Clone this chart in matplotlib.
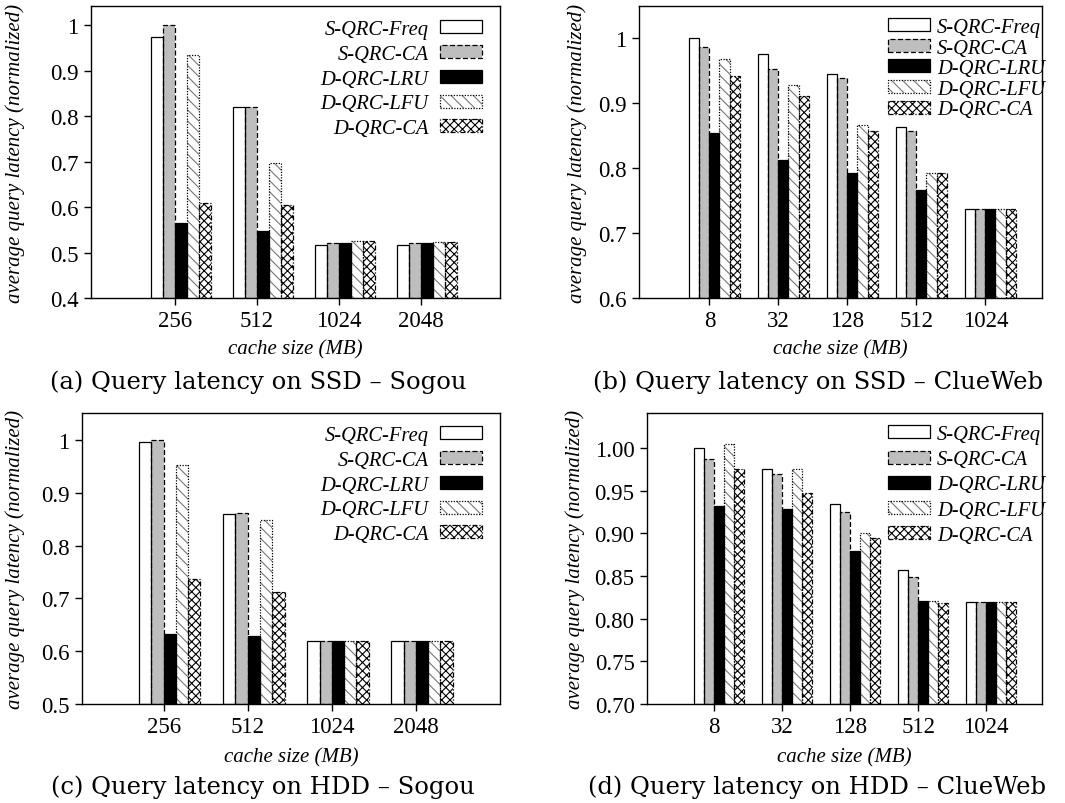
import numpy as np
import matplotlib
matplotlib.use('Agg')
import matplotlib.pyplot as plt
from matplotlib.patches import Patch
from matplotlib.legend_handler import HandlerTuple

# ---------------- data ----------------
series = ['S-QRC-Freq', 'S-QRC-CA', 'D-QRC-LRU', 'D-QRC-LFU', 'D-QRC-CA']
sogou_sizes = ['256', '512', '1024', '2048']
clueweb_sizes = ['8', '32', '128', '512', '1024']

# rows follow `series`, columns follow the cache sizes
ssd_sogou = [
    [0.974, 0.821, 0.517, 0.517],
    [1.000, 0.821, 0.522, 0.522],
    [0.565, 0.548, 0.521, 0.521],
    [0.934, 0.696, 0.525, 0.524],
    [0.608, 0.604, 0.525, 0.524],
]
ssd_clueweb = [
    [1.000, 0.976, 0.945, 0.864, 0.737],
    [0.987, 0.953, 0.939, 0.857, 0.737],
    [0.855, 0.812, 0.793, 0.767, 0.737],
    [0.968, 0.929, 0.867, 0.793, 0.737],
    [0.942, 0.911, 0.858, 0.792, 0.737],
]
hdd_sogou = [
    [0.997, 0.859, 0.619, 0.619],
    [1.000, 0.861, 0.619, 0.619],
    [0.633, 0.628, 0.619, 0.619],
    [0.952, 0.848, 0.619, 0.619],
    [0.736, 0.713, 0.619, 0.619],
]
hdd_clueweb = [
    [1.000, 0.975, 0.934, 0.857, 0.819],
    [0.9875, 0.970, 0.925, 0.849, 0.819],
    [0.932, 0.929, 0.879, 0.821, 0.819],
    [1.005, 0.975, 0.900, 0.821, 0.819],
    [0.975, 0.947, 0.894, 0.818, 0.819],
]

captions = ['(a) Query latency on SSD \u2013 Sogou',
            '(b) Query latency on SSD \u2013 ClueWeb',
            '(c) Query latency on HDD \u2013 Sogou',
            '(d) Query latency on HDD \u2013 ClueWeb']

# ---------------- styles ----------------
plt.rcParams['font.family'] = ['Liberation Serif', 'DejaVu Serif']
plt.rcParams['hatch.linewidth'] = 0.8

W, H = 1065, 804
fig = plt.figure(figsize=(W / 100, H / 100), dpi=100)

GRAY = '#bebebe'
styles = [
    dict(face='white', hatch=None, hcol=None, ls='-'),
    dict(face=GRAY, hatch=None, hcol=None, ls=(0, (4, 2))),
    dict(face='black', hatch=None, hcol=None, ls='-'),
    dict(face='white', hatch='\\\\\\', hcol='#777777', ls=(0, (1, 1.2))),
    dict(face='white', hatch='xxxx', hcol='black', ls=(0, (4, 1.5, 1, 1.5))),
]

def px_axes(l, r, t, b):
    return [l / W, 1 - b / H, (r - l) / W, (b - t) / H]

panels = [
    dict(data=ssd_sogou, cats=sogou_sizes, rect=px_axes(91, 500, 7, 299),
         ylim=(0.4, 1.042), yticks=np.arange(0.4, 1.001, 0.1), fmt='g',
         xlim=(-1.02, 3.96), legend='right', legdx=4, legdy=10, lsp=0.28,
         cap=(258, 382), ylab_x=15, xlab_y=350),
    dict(data=ssd_clueweb, cats=clueweb_sizes, rect=px_axes(639, 1042, 7, 299),
         ylim=(0.6, 1.05), yticks=np.arange(0.6, 1.001, 0.1), fmt='g',
         xlim=(-1.02, 4.82), legend='left', legdx=7, legdy=8, lsp=0.075,
         cap=(818, 382), ylab_x=577, xlab_y=350),
    dict(data=hdd_sogou, cats=sogou_sizes, rect=px_axes(82, 500, 414, 705),
         ylim=(0.5, 1.051), yticks=np.arange(0.5, 1.001, 0.1), fmt='g',
         xlim=(-0.97, 4.0), legend='right', legdx=4, legdy=9, lsp=0.28,
         cap=(263, 787), ylab_x=15, xlab_y=758),
    dict(data=hdd_clueweb, cats=clueweb_sizes, rect=px_axes(647, 1042, 414, 705),
         ylim=(0.7, 1.041), yticks=np.arange(0.7, 1.001, 0.05), fmt='.2f',
         xlim=(-0.99, 4.82), legend='left', legdx=7, legdy=8, lsp=0.3,
         cap=(817, 787), ylab_x=575, xlab_y=758),
]

bw = 0.146
FS = 14.8
TFS = 16.5

for k, p in enumerate(panels):
    ax = fig.add_axes(p['rect'])
    x = np.arange(len(p['cats']))
    handles = []
    for i, (name, st) in enumerate(zip(series, styles)):
        vals = p['data'][i]
        left = x + (i - 2) * bw
        base = p['ylim'][0]
        heights = np.array(vals) - base
        if st['hatch']:
            ax.bar(left, heights, bw, bottom=base, align='edge', color=st['face'],
                   edgecolor=st['hcol'], linewidth=0, hatch=st['hatch'], zorder=2)
        else:
            ax.bar(left, heights, bw, bottom=base, align='edge', color=st['face'],
                   linewidth=0, zorder=2)
        ax.bar(left, heights, bw, bottom=base, align='edge', facecolor='none',
               edgecolor='black', linewidth=0.9, linestyle=st['ls'], zorder=3)
        if st['hatch']:
            h1 = Patch(facecolor=st['face'], edgecolor=st['hcol'], linewidth=0, hatch=st['hatch'])
        else:
            h1 = Patch(facecolor=st['face'], linewidth=0)
        h2 = Patch(facecolor='none', edgecolor='black', linewidth=0.9, linestyle=st['ls'])
        handles.append((h1, h2))

    ax.set_xlim(*p['xlim'])
    ax.set_ylim(*p['ylim'])
    ax.set_xticks(x)
    ax.set_xticklabels(p['cats'])
    ax.set_yticks(p['yticks'])
    ax.set_yticklabels([format(v, p['fmt']) for v in p['yticks']])
    ax.tick_params(axis='both', direction='out', length=5, width=1, labelsize=TFS,
                   top=False, right=False, pad=4)
    for s in ax.spines.values():
        s.set_linewidth(1.0)

    aw = p['rect'][2] * W
    ah = p['rect'][3] * H
    if p['legend'] == 'right':
        anchor = (1 - 18 / aw + p['legdx'] / aw, 1.0 - p['legdy'] / ah)
        ax.legend(handles, series, handler_map={tuple: HandlerTuple(ndivide=1, pad=0)},
                  loc='upper right', bbox_to_anchor=anchor,
                  frameon=False, markerfirst=False, prop=dict(size=FS, style='italic'),
                  handlelength=2.05, handleheight=0.6, handletextpad=0.55,
                  labelspacing=p['lsp'], borderpad=0.2, borderaxespad=0)
    else:
        anchor = (1.0 + p['legdx'] / aw, 1.0 - p['legdy'] / ah)
        ax.legend(handles, series, handler_map={tuple: HandlerTuple(ndivide=1, pad=0)},
                  loc='upper right', bbox_to_anchor=anchor,
                  frameon=False, markerfirst=True, prop=dict(size=FS, style='italic'),
                  handlelength=2.05, handleheight=0.6, handletextpad=0.35,
                  labelspacing=p['lsp'], borderpad=0.2, borderaxespad=0)

    cx = (p['rect'][0] + p['rect'][2] / 2)
    cy = (p['rect'][1] + p['rect'][3] / 2)
    fig.text(cx, 1 - p['xlab_y'] / H, 'cache size (MB)', ha='center', va='center',
             fontsize=15, style='italic')
    fig.text(p['ylab_x'] / W, cy, 'average query latency (normalized)', ha='center',
             va='center', rotation=90, fontsize=15, style='italic')
    fig.text(p['cap'][0] / W, 1 - p['cap'][1] / H, captions[k],
             ha='center', va='center', fontsize=17.5, family='DejaVu Serif')

fig.savefig('out.png', dpi=100)
